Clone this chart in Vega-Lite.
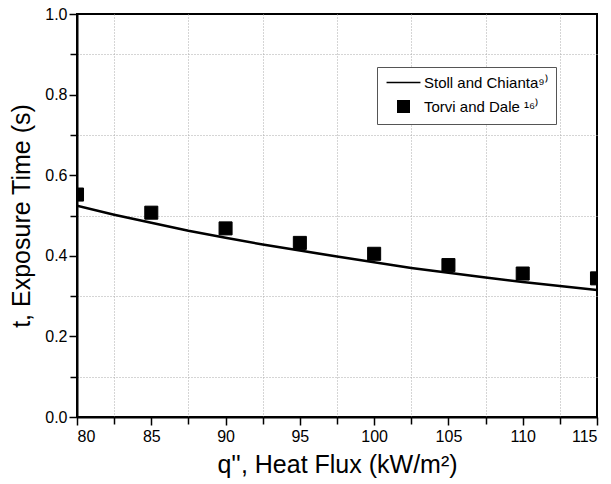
{
  "$schema": "https://vega.github.io/schema/vega-lite/v6.json",
  "width": 520,
  "height": 403,
  "autosize": "none",
  "padding": {"left": 77, "top": 14, "right": 14, "bottom": 67},
  "background": "white",
  "config": {
    "font": "Liberation Sans",
    "view": {"stroke": "black", "strokeWidth": 2},
    "axis": {
      "domainColor": "black", "domainWidth": 2,
      "tickColor": "black", "tickWidth": 1.5, "tickSize": 8,
      "labelColor": "black", "labelFontSize": 16, "labelFont": "Liberation Sans",
      "titleColor": "black", "titleFontSize": 25, "titleFontWeight": "normal", "titleFont": "Liberation Sans",
      "gridWidth": 1
    }
  },
  "datasets": {
    "stoll": [
      {"q": 80, "t": 0.524}, {"q": 82.5, "t": 0.502}, {"q": 85, "t": 0.482},
      {"q": 87.5, "t": 0.462}, {"q": 90, "t": 0.445}, {"q": 92.5, "t": 0.428},
      {"q": 95, "t": 0.413}, {"q": 97.5, "t": 0.398}, {"q": 100, "t": 0.384},
      {"q": 102.5, "t": 0.370}, {"q": 105, "t": 0.358}, {"q": 107.5, "t": 0.346},
      {"q": 110, "t": 0.335}, {"q": 112.5, "t": 0.325}, {"q": 115, "t": 0.315}
    ],
    "torvi": [
      {"q": 80, "t": 0.552, "series": "Torvi and Dale ¹⁶⁾"},
      {"q": 85, "t": 0.507, "series": "Torvi and Dale ¹⁶⁾"},
      {"q": 90, "t": 0.468, "series": "Torvi and Dale ¹⁶⁾"},
      {"q": 95, "t": 0.432, "series": "Torvi and Dale ¹⁶⁾"},
      {"q": 100, "t": 0.405, "series": "Torvi and Dale ¹⁶⁾"},
      {"q": 105, "t": 0.377, "series": "Torvi and Dale ¹⁶⁾"},
      {"q": 110, "t": 0.356, "series": "Torvi and Dale ¹⁶⁾"},
      {"q": 115, "t": 0.344, "series": "Torvi and Dale ¹⁶⁾"}
    ]
  },
  "resolve": {"axis": {"x": "independent", "y": "independent"}},
  "layer": [
    {
      "data": {"name": "stoll"},
      "mark": {"type": "line", "color": "black", "strokeWidth": 2.5, "clip": true},
      "encoding": {
        "x": {
          "field": "q", "type": "quantitative",
          "scale": {"domain": [80, 115], "nice": false, "zero": false},
          "axis": {
            "orient": "bottom", "title": null, "labels": false, "domain": false,
            "values": [82.5, 87.5, 92.5, 97.5, 102.5, 107.5, 112.5],
            "gridDash": [1, 2], "gridColor": "#aaaaaa", "tickSize": 7, "zindex": 0
          }
        },
        "y": {
          "field": "t", "type": "quantitative",
          "scale": {"domain": [0, 1], "nice": false},
          "axis": {
            "orient": "left", "title": null, "labels": false, "domain": false,
            "values": [0.1, 0.3, 0.5, 0.7, 0.9],
            "gridDash": [1, 2], "gridColor": "#aaaaaa", "tickSize": 7, "zindex": 0
          }
        }
      }
    },
    {
      "data": {"name": "torvi"},
      "mark": {"type": "point", "filled": true, "fill": "black", "stroke": "black", "strokeWidth": 1, "size": 170, "opacity": 1, "clip": true},
      "encoding": {
        "x": {
          "field": "q", "type": "quantitative",
          "axis": {
            "orient": "bottom", "title": "q'', Heat Flux (kW/m²)",
            "values": [80, 85, 90, 95, 100, 105, 110, 115],
            "labelPadding": 3, "titlePadding": 8,
            "gridDash": [4, 3], "gridColor": "#888888", "zindex": 1
          }
        },
        "y": {
          "field": "t", "type": "quantitative",
          "axis": {
            "orient": "left", "title": "t, Exposure Time (s)",
            "values": [0, 0.2, 0.4, 0.6, 0.8, 1.0], "format": ".1f",
            "labelPadding": 2, "titlePadding": 10,
            "gridDash": [4, 3], "gridColor": "#888888", "zindex": 1
          }
        },
        "shape": {
          "field": "series", "type": "nominal",
          "scale": {"domain": ["Stoll and Chianta⁹⁾", "Torvi and Dale ¹⁶⁾"], "range": ["M-2.6,-0.12L2.6,-0.12L2.6,0.12L-2.6,0.12Z", "square"]},
          "legend": {
            "title": null,
            "orient": "none",
            "legendX": 300,
            "legendY": 53,
            "fillColor": "white",
            "strokeColor": "#555555",
            "padding": 8,
            "rowPadding": 6,
            "symbolSize": 170,
            "symbolOffset": 11,
            "labelOffset": 13,
            "symbolFillColor": "black",
            "symbolStrokeColor": "black",
            "symbolStrokeWidth": 1,
            "labelFontSize": 15,
            "labelColor": "black",
            "labelFont": "Liberation Sans",
            "labelLimit": 300
          }
        }
      }
    }
  ]
}
